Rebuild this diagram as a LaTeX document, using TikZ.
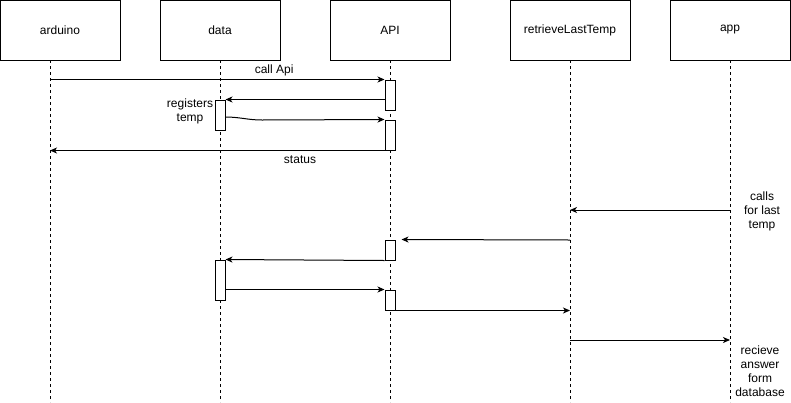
\documentclass[tikz,border=0pt]{standalone}
\usepackage{fontspec}
\setmainfont{Liberation Sans}
\usetikzlibrary{arrows.meta}

\begin{document}
\begin{tikzpicture}
		[x=1pt, y=-1pt, line width=1pt,
		 font=\fontsize{12}{14}\selectfont,
		 actor/.style={draw, minimum width=120pt, minimum height=60pt, inner sep=0pt},
		 act/.style={draw, fill=white, minimum width=10pt, inner sep=0pt},
		 life/.style={dash pattern=on 3pt off 3pt},
		 msg/.style={-{Stealth[length=7pt,width=6pt,inset=2pt]}},
		 lbl/.style={align=center, inner sep=0pt}]
			\useasboundingbox (0,0) rectangle (791,402);
			% participants
			\node [actor] (arduino) at (60,30) {arduino};
			\node [actor] (data) at (220,30) {data};
			\node [actor] (api) at (390,30) {API};
			\node [actor] (retrieve) at (570,30) {retrieveLastTemp};
			\node [actor] (app) at (730,30) {app};
			% lifelines
			\coordinate (arduinoL) at (50,60);  \coordinate (arduinoE) at (50,402);
			\coordinate (dataL) at (220,60);    \coordinate (dataE) at (220,402);
			\coordinate (apiL) at (390,60);     \coordinate (apiE) at (390,402);
			\coordinate (retrieveL) at (570,60); \coordinate (retrieveE) at (570,402);
			\coordinate (appL) at (730,60);     \coordinate (appE) at (730,402);
			\foreach \p in {arduino,data,api,retrieve,app}
				\draw [life] (\p L) -- (\p E);
			% activations
			\node [act, minimum height=30pt] (api1) at (390,95) {};
			\node [act, minimum height=30pt] (data1) at (220,115) {};
			\node [act, minimum height=30pt] (api2) at (390,135) {};
			\node [act, minimum height=20pt] (api3) at (390,250) {};
			\node [act, minimum height=40pt] (data2) at (220,280) {};
			\node [act, minimum height=20pt] (api4) at (390,300) {};
			% messages
			\draw [msg] (api1.north west -| arduinoL) -- (api1.north west)
				node [lbl, pos=0.67, above=3pt] (callapi) {call Api};
			\draw [msg] (data1.north east -| api1.west) -- (data1.north east);
			\coordinate (bend) at (262,120);
			\draw [msg] ([yshift=-2pt]data1.east) to[out=0, in=180] (bend) -- (api2.north west);
			\node [lbl] (registers) at (190,111) {registers\\temp};
			\draw [msg] (api2.south east) -- (api2.south east -| arduinoL);
			\node [lbl] (status) at (300,160) {status};
			\coordinate (calls) at (730,210);
			\draw [msg] (calls) -- (calls -| retrieveL);
			\node [lbl] (callslbl) at (762,211) {calls\\for last\\temp};
			\coordinate (ask) at (570,240);
			\draw [msg] (ask) -- ([xshift=6pt]api3.north east);
			\draw [msg] (api3.south west) -- (data2.north east);
			\draw [msg] (api4.north west -| data2.east) -- (api4.north west);
			\draw [msg] (api4.south east) -- (api4.south east -| retrieveL);
			\coordinate (answer) at (570,340);
			\draw [msg] (answer) -- (answer -| appL);
			\node [lbl] (answerlbl) at (760,371) {recieve\\answer\\form\\database};
	\end{tikzpicture}
\end{document}
